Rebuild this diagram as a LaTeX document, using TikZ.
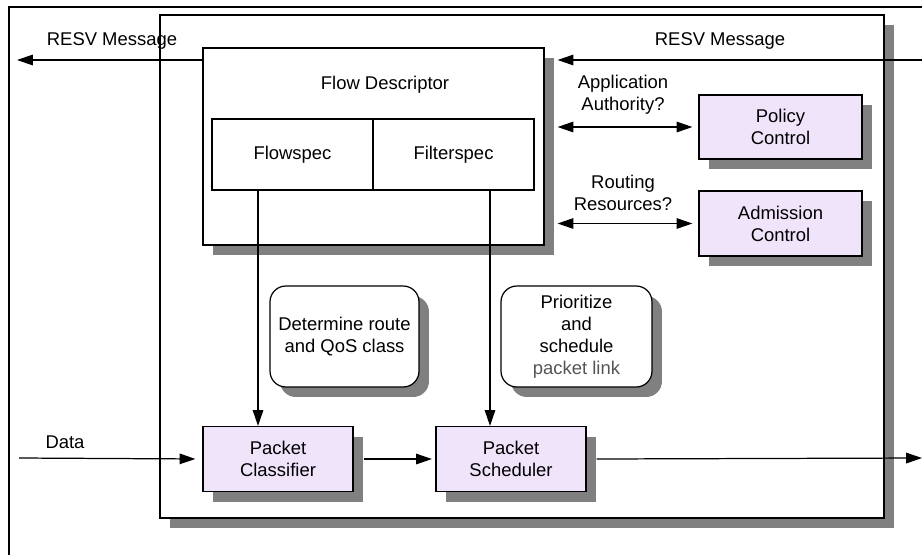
\documentclass[tikz,border=0pt]{standalone}
\usepackage{fontspec}
\setmainfont{Liberation Sans}
\usepackage{xcolor}
\usepackage{tikz}
\usetikzlibrary{arrows.meta,shadows}
\tikzset{>={Triangle[length=9pt,width=6pt]}}
\definecolor{lilac}{RGB}{239,228,250}
\definecolor{shade}{RGB}{128,128,128}
\definecolor{faint}{RGB}{85,85,85}

\begin{document}
\begin{tikzpicture}[x=0.02cm, y=-0.02cm, line width=0.7pt,
    font=\fontsize{10.5}{12.5}\selectfont]

  \tikzset{shd/.style={drop shadow={shadow xshift=0.2cm, shadow yshift=-0.2cm,
                       fill=shade, opacity=1}},
           box/.style={draw, fill=white, shd, align=center, inner sep=1pt},
           func/.style={box, fill=lilac, minimum width=3.0cm, minimum height=1.3cm},
           task/.style={box, rounded corners=9pt, minimum height=2.02cm},
           spec/.style={draw, minimum width=3.22cm, minimum height=1.42cm},
           lbl/.style={align=center, inner sep=1pt}}

  \useasboundingbox (0,0) rectangle (922,555);
  \draw (9,555) -- (9,7) -- (922,7);

  % router
  \node[box, minimum width=14.48cm, minimum height=10.06cm] (router) at (522,266.5) {};

  % flow descriptor
  \node[box, minimum width=6.82cm, minimum height=3.94cm] (fd) at (373.5,146.5) {};
  \node[lbl] (fdtitle) at (385,85) {Flow Descriptor};
  \node[spec] (flowspec) at (292.5,154.5) {Flowspec};
  \node[spec] (filterspec) at (453.5,154.5) {Filterspec};

  % control modules
  \node[func, minimum width=3.26cm, minimum height=1.28cm] (policy) at (780.5,127) {Policy\\Control};
  \node[func, minimum width=3.26cm, minimum height=1.3cm] (admission) at (780.5,223.5) {Admission\\Control};

  % what the data path does
  \node[task, minimum width=2.98cm] (route) at (344.5,336.5) {Determine route\\and QoS class};
  \node[task, minimum width=3.02cm] (prio) at (576.5,336.5)
       {Prioritize\\and\\schedule\\\textcolor{faint}{packet link}};

  % data path
  \node[func] (classifier) at (278,459) {Packet\\Classifier};
  \node[func] (scheduler) at (511,459) {Packet\\Scheduler};

  % reservation messages
  \coordinate (resvout) at (17,60);
  \coordinate (resvin) at (922,60);
  \draw[->] (fd.west |- resvout) -- (resvout);
  \node[lbl] (resvl) at (112,41) {RESV Message};
  \draw[->] (resvin) -- ([xshift=0.26cm]fd.east |- resvin);
  \node[lbl] (resvr) at (720,41) {RESV Message};

  % queries to the control modules
  \draw[<->] ([xshift=0.26cm]fd.east |- policy.west) -- ([xshift=-0.12cm]policy.west);
  \node[lbl] (auth) at (623,95) {Application\\Authority?};
  \draw[<->] ([xshift=0.26cm]fd.east |- admission.west) -- ([xshift=-0.12cm]admission.west);
  \node[lbl] (routing) at (623,193) {Routing\\Resources?};

  % specs feed the data path
  \draw[->] ([xshift=-0.69cm]flowspec.south) -- ([xshift=-0.69cm]flowspec.south |- classifier.north);
  \draw[->] ([xshift=0.73cm]filterspec.south) -- ([xshift=0.73cm]filterspec.south |- scheduler.north);

  % packets
  \coordinate (datain) at (19,458);
  \coordinate (dataout) at (922,458);
  \node[lbl] (data) at (65,442) {Data};
  \draw[->, shorten >=4pt] (datain) -- (classifier.west);
  \draw[->, shorten >=2pt] ([xshift=0.2cm]classifier.east) -- (scheduler.west);
  \draw[->] ([xshift=0.2cm]scheduler.east) -- (dataout);

\end{tikzpicture}
\end{document}
